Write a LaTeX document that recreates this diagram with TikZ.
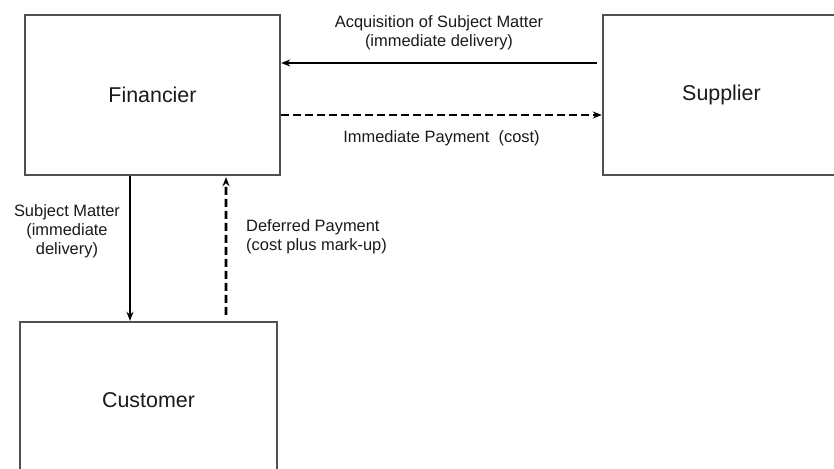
\documentclass[tikz,border=0pt]{standalone}
\usepackage{fontspec}
\setmainfont{Liberation Sans}
\usetikzlibrary{arrows.meta}
\definecolor{boxline}{HTML}{505050}
\definecolor{ink}{HTML}{1A1A1A}
\begin{document}
\begin{tikzpicture}[x=1bp,y=-1bp,
  party/.style={draw=boxline, line width=2.4bp, fill=white, inner sep=0pt,
    font=\fontsize{21.5}{26}\selectfont, text=ink},
  flowlabel/.style={font=\fontsize{16.5}{19}\selectfont, text=ink, inner sep=0pt},
  goods/.style={line width=1.6bp, draw=black, -{Stealth[length=9bp,width=7bp]}},
  money/.style={line width=2.6bp, draw=black, dash pattern=on 8bp off 4bp,
    -{Stealth[length=9bp,width=7bp]}}]
  \clip (0,0) rectangle (834,469);
  \fill[white] (0,0) rectangle (834,469);

  % the three parties
  \node[party, minimum width=255bp, minimum height=160bp] (fin) at (152.5,95) {Financier};
  \node[party, minimum width=237bp, minimum height=160bp] (sup) at (721.5,95) {Supplier};
  \node[party, minimum width=257bp, minimum height=156bp] (cus) at (148.5,400) {Customer};

  % supplier -> financier: goods, paid for at once
  \draw[goods] ([xshift=-5bp,yshift=32bp]sup.west) -- ([yshift=32bp]fin.east)
    node[flowlabel, midway, above=12bp, align=center] (acq)
      {Acquisition of Subject Matter\\(immediate delivery)};
  \draw[money] ([yshift=-20bp]fin.east) -- ([yshift=-20bp]sup.west)
    node[flowlabel, midway, below=14bp] (pay) {Immediate Payment~~(cost)};

  % financier -> customer: goods now, payment later
  \draw[goods] ([xshift=-22.5bp]fin.south) -- ([xshift=-18.5bp]cus.north);
  \node[flowlabel, align=center] (sml) at (67,231)
    {Subject Matter\\(immediate\\delivery)};
  \draw[money] ([xshift=77.5bp,yshift=6bp]cus.north) -- ([xshift=73.5bp,yshift=-1bp]fin.south);
  \node[flowlabel, align=left, anchor=west] (dpl) at (246,237)
    {Deferred Payment\\(cost plus mark-up)};
\end{tikzpicture}
\end{document}
